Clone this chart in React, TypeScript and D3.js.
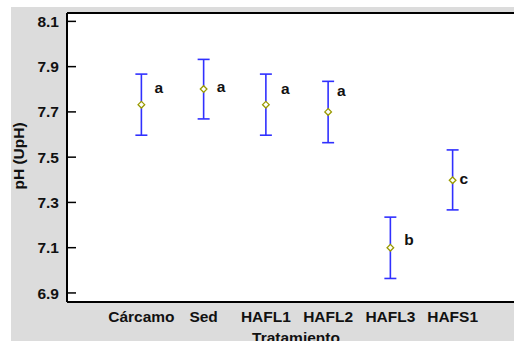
import React from 'react';
import * as d3 from 'd3';

const categories = ['Cárcamo', 'Sed', 'HAFL1', 'HAFL2', 'HAFL3', 'HAFS1'];
const means = [7.732, 7.801, 7.732, 7.70, 7.10, 7.398];
const upper = [7.867, 7.932, 7.867, 7.835, 7.235, 7.532];
const lower = [7.597, 7.669, 7.597, 7.564, 6.964, 7.267];
const groups = ['a', 'a', 'a', 'a', 'b', 'c'];
// baseline of the group letters, in pH units
const groupLabelY = [7.783, 7.787, 7.778, 7.769, 7.111, 7.380];
const groupLabelDx = [13, 13, 15, 9, 14, 7];
const yTicks = [6.9, 7.1, 7.3, 7.5, 7.7, 7.9, 8.1];

const width = 514;
const height = 341;
const margin = {top: 13, left: 67, bottom: 302, right: 527};

const App = () => {
    const x = d3.scalePoint<string>()
        .domain(categories)
        .range([margin.left, margin.right])
        .padding(1.195);

    const y = d3.scaleLinear()
        .domain([6.86, 8.137])
        .range([margin.bottom, margin.top]);

    const font = '"Liberation Sans", Arial, sans-serif';
    const fs = 15.5;

    // small hollow diamond marker
    const diamond = d3.symbol().type(d3.symbolDiamond2).size(28)();

    return (
        <svg width={width} height={height} style={{position: 'absolute', left: 0, top: 0}}>
            <rect x={11} y={7} width={width - 11} height={height - 7} fill="#dcdcdc"/>
            <rect x={margin.left} y={margin.top} width={margin.right - margin.left}
                  height={margin.bottom - margin.top} fill="#fff"/>
            {/* frame */}
            <line x1={margin.left} x2={width} y1={margin.top} y2={margin.top} stroke="#000" strokeWidth={2}/>
            <line x1={margin.left} x2={margin.left} y1={margin.top} y2={margin.bottom} stroke="#000" strokeWidth={2}/>
            <line x1={margin.left} x2={width} y1={margin.bottom} y2={margin.bottom} stroke="#000" strokeWidth={2}/>

            {/* y axis ticks */}
            {yTicks.map(t => (
                <g key={t}>
                    <line x1={margin.left} x2={margin.left + 9} y1={y(t)} y2={y(t)} stroke="#000" strokeWidth={1.5}/>
                    <text x={59} y={y(t)} dy="0.36em" textAnchor="end" fontFamily={font}
                          fontWeight="bold" fontSize={fs} fill="#111">{t.toFixed(1)}</text>
                </g>
            ))}

            {/* x labels */}
            {categories.map(c => (
                <text key={c} x={x(c)} y={322} textAnchor="middle" fontFamily={font}
                      fontWeight="bold" fontSize={fs} fill="#111">{c}</text>
            ))}

            <text x={296} y={343} textAnchor="middle" fontFamily={font} fontWeight="bold"
                  fontSize={fs} fill="#111">Tratamiento</text>
            <text transform={`translate(24, 156) rotate(-90)`} textAnchor="middle" fontFamily={font}
                  fontWeight="bold" fontSize={fs} fill="#111">pH (UpH)</text>

            {/* error bars */}
            {categories.map((c, i) => {
                const cx = x(c) as number;
                return (
                    <g key={c}>
                        <line x1={cx} x2={cx} y1={y(upper[i])} y2={y(lower[i])} stroke="#3030ff" strokeWidth={1.6}/>
                        <line x1={cx - 6} x2={cx + 6} y1={y(upper[i])} y2={y(upper[i])} stroke="#3030ff" strokeWidth={1.6}/>
                        <line x1={cx - 6} x2={cx + 6} y1={y(lower[i])} y2={y(lower[i])} stroke="#3030ff" strokeWidth={1.6}/>
                        <path d={diamond as string} transform={`translate(${cx},${y(means[i])})`}
                              fill="#fff" stroke="#9a9a00" strokeWidth={1.3}/>
                        <text x={cx + groupLabelDx[i]} y={y(groupLabelY[i])} fontFamily={font}
                              fontWeight="bold" fontSize={fs} fill="#111">{groups[i]}</text>
                    </g>
                );
            })}
        </svg>
    );
};

export default App;
